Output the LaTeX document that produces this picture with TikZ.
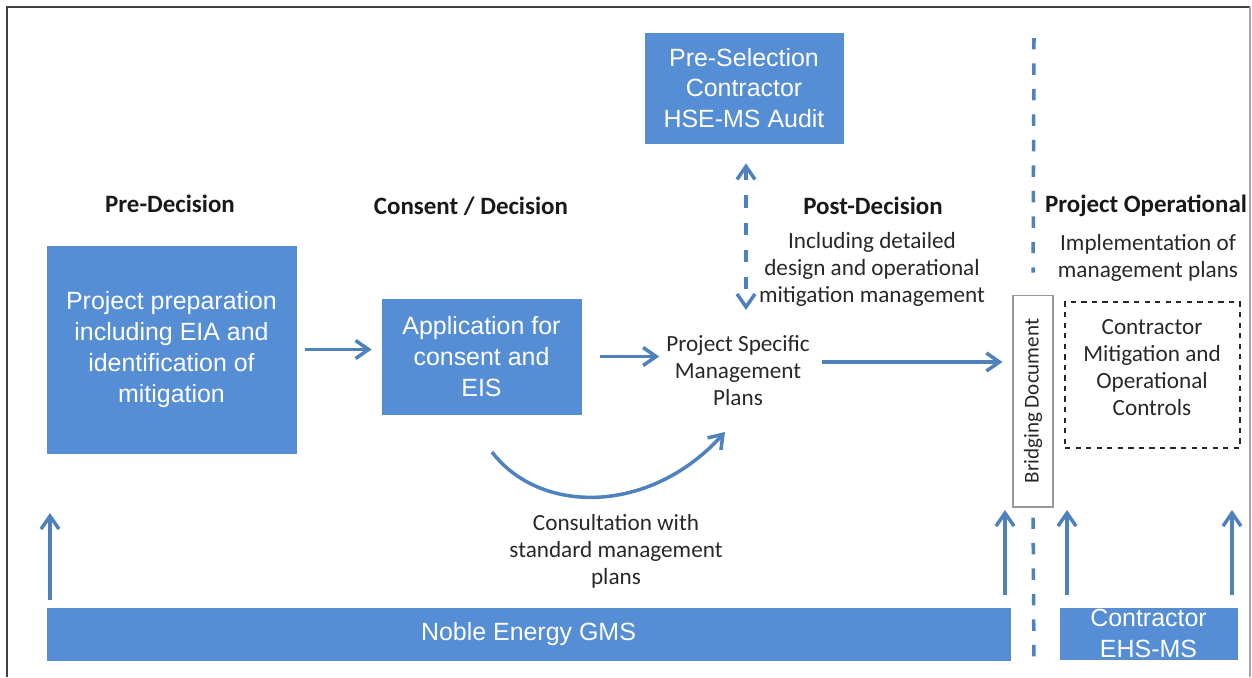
\documentclass[tikz,border=0pt]{standalone}
\usepackage{fontspec}
\setmainfont{Carlito}
\newfontfamily\arialfont{Liberation Sans}
\usetikzlibrary{arrows.meta,calc}

\definecolor{boxblue}{RGB}{85,142,213}
\definecolor{arrblue}{RGB}{79,129,189}
\definecolor{txtgray}{RGB}{40,40,40}

\begin{document}
\begin{tikzpicture}[x=0.02cm, y=-0.02cm,
  bluebox/.style={rectangle, fill=boxblue, draw=boxblue!85!gray, line width=0.4pt,
    text=white, align=center, inner sep=2pt,
    font=\arialfont\fontsize{14.2}{17.6}\selectfont},
  phase/.style={font=\bfseries\fontsize{14.2}{17}\selectfont, text=black!90},
  note/.style={align=center, text=txtgray, inner sep=1pt,
    font=\fontsize{13.2}{15.4}\selectfont},
  arr/.style={draw=arrblue, line width=2pt, -{Straight Barb[length=2.6mm,width=3.6mm]}},
  darr/.style={arr, {Straight Barb[length=2.6mm,width=3.6mm]}-{Straight Barb[length=2.6mm,width=3.6mm]},
    dash pattern=on 7pt off 8.5pt},
  sepline/.style={draw=arrblue, line width=2pt, dash pattern=on 6.5pt off 8pt}]

  \useasboundingbox (0,0) rectangle (1252,677);

  % --- Frame ---
  \draw[black!75, line width=1.2pt] (7,677) -- (7,7) -- (1250,7);
  \draw[black!35, line width=0.6pt] (1250,7) -- (1250,677);

  % --- Phase headings ---
  \node[phase] (predec)  at (170,204)  {Pre-Decision};
  \node[phase] (consdec) at (471,206)  {Consent / Decision};
  \node[phase] (postdec) at (873,206)  {Post-Decision};
  \node[phase] (projop)  at (1146,206) {Project Operational};

  % --- Blue boxes ---
  \node[bluebox, minimum width=4.98cm, minimum height=4.14cm] (prep) at (171.5,349.5)
    {Project preparation\\including EIA and\\identification of\\mitigation};
  \node[bluebox, minimum width=3.98cm, minimum height=2.3cm] (appl) at (481.5,356.5)
    {Application for\\consent and\\EIS};
  \node[bluebox, minimum width=3.96cm, minimum height=2.2cm] (presel) at (744,88)
    {Pre-Selection\\Contractor\\HSE-MS Audit};
  \node[bluebox, minimum width=19.26cm, minimum height=1.04cm] (gms) at (528.5,634)
    {Noble Energy GMS};
  \node[bluebox, minimum width=3.54cm, minimum height=1.02cm, inner sep=0pt] (ehs) at (1148.5,633.5)
    {Contractor\\EHS-MS};

  % --- Text nodes ---
  \node[note] (psmp)    at (738,371)  {Project Specific\\Management\\Plans};
  \node[note] (incl)    at (872,269)  {Including detailed\\design and operational\\mitigation management};
  \node[note] (impl)    at (1148,258) {Implementation of\\management plans};
  \node[note] (consult) at (616,551)  {Consultation with\\standard management\\plans};

  % --- Bridging document and contractor controls ---
  \node[draw=black!40, fill=white, line width=0.6pt, minimum width=0.8cm, minimum height=4.24cm] (bridge) at (1033,401) {};
  \node[rotate=90, text=txtgray, font=\fontsize{12}{14}\selectfont] (bridgetxt) at (bridge.center) {Bridging Document};
  \node[draw=black!85, dashed, line width=0.8pt, minimum width=3.5cm, minimum height=2.92cm] (ctrl) at (1152.5,375) {};
  \node[note] (ctrltxt) at (1152,367.5) {Contractor\\Mitigation and\\Operational\\Controls};

  % --- Named ends ---
  \coordinate (vtop) at (1034,38);
  \coordinate (vbot) at (1034,665);
  \coordinate (dd)   at (746,310);
  \coordinate (cb1)  at (492,452);
  \coordinate (cb2)  at (725,432);
  \coordinate (up1)  at (50,513);
  \coordinate (up2)  at (1005,510);
  \coordinate (up3)  at (1067,510);
  \coordinate (up4)  at (1232,510);

  % --- Separator line ---
  \draw[sepline, shorten >=0.44cm] (vtop) -- (bridge.north);
  \draw[sepline, shorten <=0.2cm] (bridge.south) -- (vbot);

  % --- Arrows ---
  \draw[arr, shorten <=0.18cm, shorten >=0.2cm] (prep.east) -- (prep.east -| appl.west);
  \draw[arr, shorten <=0.38cm, shorten >=0.1cm] (appl.east) -- (appl.east -| psmp.west);
  \draw[arr, shorten <=0.2cm, shorten >=0.2cm] ($(psmp.east)+(0,-9)$) -- ($(psmp.east -| bridge.west)+(0,-9)$);
  \draw[darr, shorten <=0.4cm] (presel.south -| dd) -- (dd);
  \draw[arr] (cb1) .. controls (540,515) and (650,515) .. (cb2);

  \draw[arr, shorten <=0.16cm] (up1 |- gms.north) -- (up1);
  \draw[arr, shorten <=0.26cm] (up2 |- gms.north) -- (up2);
  \draw[arr, shorten <=0.26cm] (up3 |- ehs.north) -- (up3);
  \draw[arr, shorten <=0.26cm] (up4 |- ehs.north) -- (up4);
\end{tikzpicture}
\end{document}
